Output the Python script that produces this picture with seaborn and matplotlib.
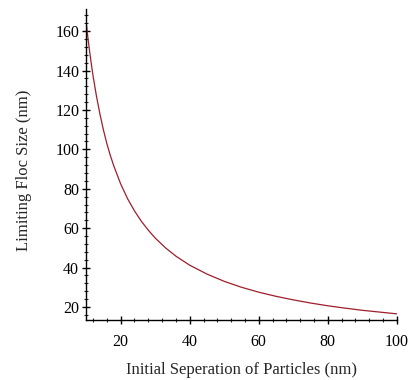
import matplotlib
matplotlib.use("Agg")
import matplotlib.pyplot as plt
import seaborn as sns
import pandas as pd
from matplotlib.ticker import MultipleLocator

separation = [10, 10.5, 11, 11.5, 12, 13, 14, 15, 16, 17, 18, 20, 22, 24, 26, 28, 30,
              33, 36, 40, 45, 50, 55, 60, 65, 70, 75, 80, 85, 90, 95, 100]
floc_size = [165, 157, 150, 143.5, 137.5, 127, 118, 110, 103, 97, 91.7, 82.5, 75, 68.8,
             63.5, 59, 55, 50, 45.8, 41.2, 36.7, 33, 30, 27.5, 25.4, 23.6, 22, 20.6,
             19.4, 18.3, 17.4, 16.5]

df = pd.DataFrame({"sep": separation, "floc": floc_size})

sns.set_style("white")
plt.rcParams["font.family"] = ["Liberation Serif", "DejaVu Serif"]

fig = plt.figure(figsize=(4.1, 3.8), dpi=100)
ax = fig.add_axes([0.21, 0.158, 0.758, 0.818])
sns.lineplot(data=df, x="sep", y="floc", ax=ax, color="#9e1e2c", linewidth=0.9)

ax.set_xlim(10, 100)
ax.set_ylim(13.4, 171.2)
ax.xaxis.set_minor_locator(MultipleLocator(4))
ax.yaxis.set_minor_locator(MultipleLocator(4))
ax.set_yticks([20, 40, 60, 80, 100, 120, 140, 160])
ax.set_xticks([20, 40, 60, 80, 100])

for s in ["top", "right"]:
    ax.spines[s].set_visible(False)
for s in ["left", "bottom"]:
    ax.spines[s].set_color("black")
    ax.spines[s].set_linewidth(1.0)

ax.tick_params(axis="both", which="major", direction="inout", length=6, width=1,
               labelsize=11.5, colors="black", left=True, bottom=True)
ax.tick_params(axis="both", which="minor", direction="inout", length=3, width=0.8,
               left=True, bottom=True)
ax.tick_params(axis="x", pad=7)
ax.tick_params(axis="y", pad=2)

ax.set_xlabel("Initial Seperation of Particles (nm)", fontsize=12, labelpad=9)
ax.set_ylabel("Limiting Floc Size (nm)", fontsize=12, labelpad=14)
ax.yaxis.set_label_coords(-0.175, 0.482)

fig.savefig("out.png", dpi=100)
